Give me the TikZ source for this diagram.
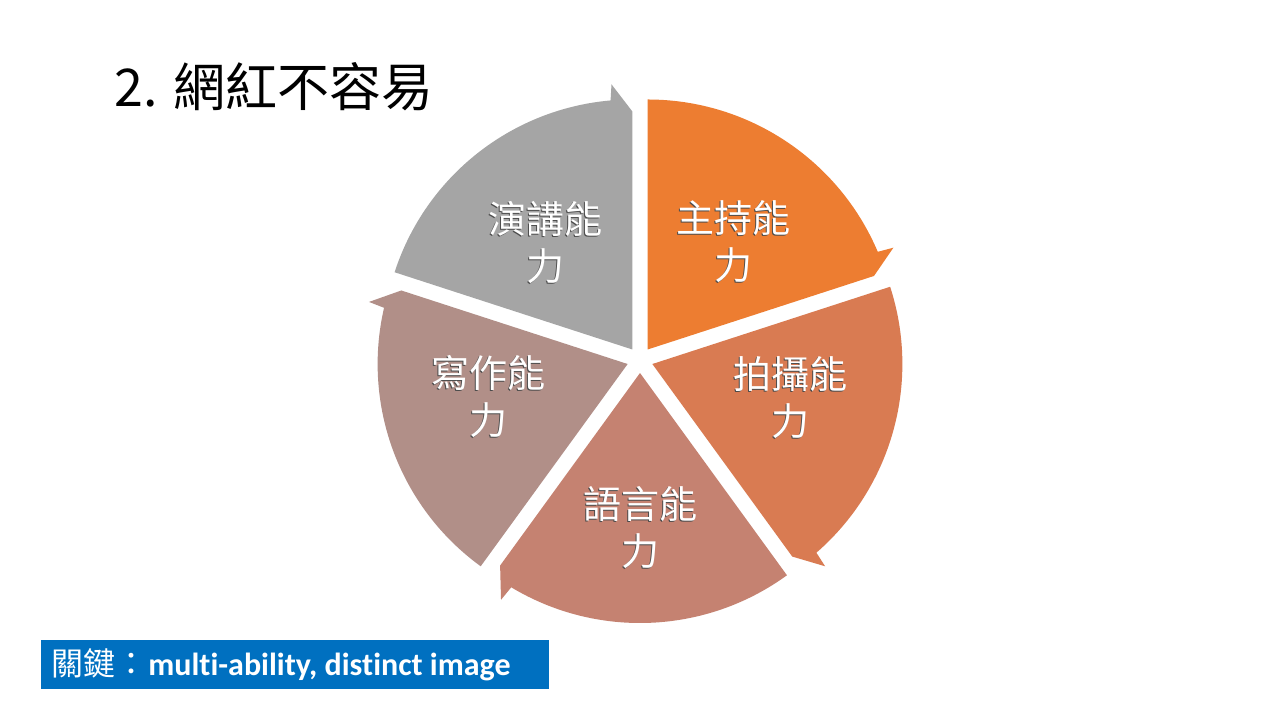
\documentclass[tikz,border=0pt]{standalone}
\usepackage{fontspec}
\setmainfont[Ligatures={NoCommon}]{Carlito}
\newfontfamily\cjk{Noto Sans CJK TC}
\usetikzlibrary{calc}
\definecolor{segA}{RGB}{237,125,49}
\definecolor{segB}{RGB}{217,123,82}
\definecolor{segC}{RGB}{197,130,113}
\definecolor{segD}{RGB}{177,143,136}
\definecolor{segE}{RGB}{165,165,165}
\definecolor{keyblue}{RGB}{0,112,192}
\begin{document}
\begin{tikzpicture}[x=0.5pt,y=0.5pt,
  seglabel/.style={align=center,text=white,font=\cjk\fontsize{19}{23.5}\selectfont,inner sep=0pt},
  segshadow/.style={seglabel,text=black!70}]
\useasboundingbox (0,0) rectangle (1280,720);
\fill[white] (0,0) rectangle (1280,720);
\coordinate (O) at (640,360);
\foreach \a/\c/\n in {90/segA/s1,18/segB/s2,-54/segC/s3,-126/segD/s4,162/segE/s5}{
  \pgfmathsetmacro\b{\a-72}
  \pgfmathsetmacro\m{\a-36}
  \pgfmathsetmacro\e{\a-67}
  \pgfmathsetmacro\f{\a-67.5}
  \coordinate (\n-apex) at ($(O)+(\m:13)$);
  \coordinate (\n-start) at ($(\n-apex)+(\a:250)$);
  \coordinate (\n-barb) at ($(\n-apex)+(\f:266)$);
  \coordinate (\n-tip) at ($(\n-apex)+(\b:238)$);
  \fill[\c] (\n-apex) -- (\n-start) arc[start angle=\a, end angle=\e, radius=250]
    -- (\n-barb) -- (\n-tip) -- cycle;
}
% labels
\node[segshadow] (l1s) at (732,477) {主持能\\力};
\node[seglabel]  (l1)  at (733,478) {主持能\\力};
\node[segshadow] (l2s) at (789,321) {拍攝能\\力};
\node[seglabel]  (l2)  at (790,322) {拍攝能\\力};
\node[segshadow] (l3s) at (639,191) {語言能\\力};
\node[seglabel]  (l3)  at (640,192) {語言能\\力};
\node[segshadow] (l4s) at (487,322) {寫作能\\力};
\node[seglabel]  (l4)  at (488,323) {寫作能\\力};
\node[segshadow] (l5s) at (544,477) {演講能\\力};
\node[seglabel]  (l5)  at (545,478) {演講能\\力};
% title
\node[anchor=west,inner sep=0pt,font=\cjk\fontsize{26}{30}\selectfont] (title) at (114,633) {2. 網紅不容易};
% key box
\node[fill=keyblue,minimum width=254pt,minimum height=24.5pt,inner sep=0pt] (key) at (295,55.5) {};
\node[anchor=west,inner sep=0pt,text=white] (keytext) at (51,55.5)
  {{\cjk\fontsize{16}{18}\selectfont 關鍵：}\hspace{0.5pt}{\fontsize{16}{18}\selectfont\bfseries multi-ability, distinct image}};
\end{tikzpicture}
\end{document}
